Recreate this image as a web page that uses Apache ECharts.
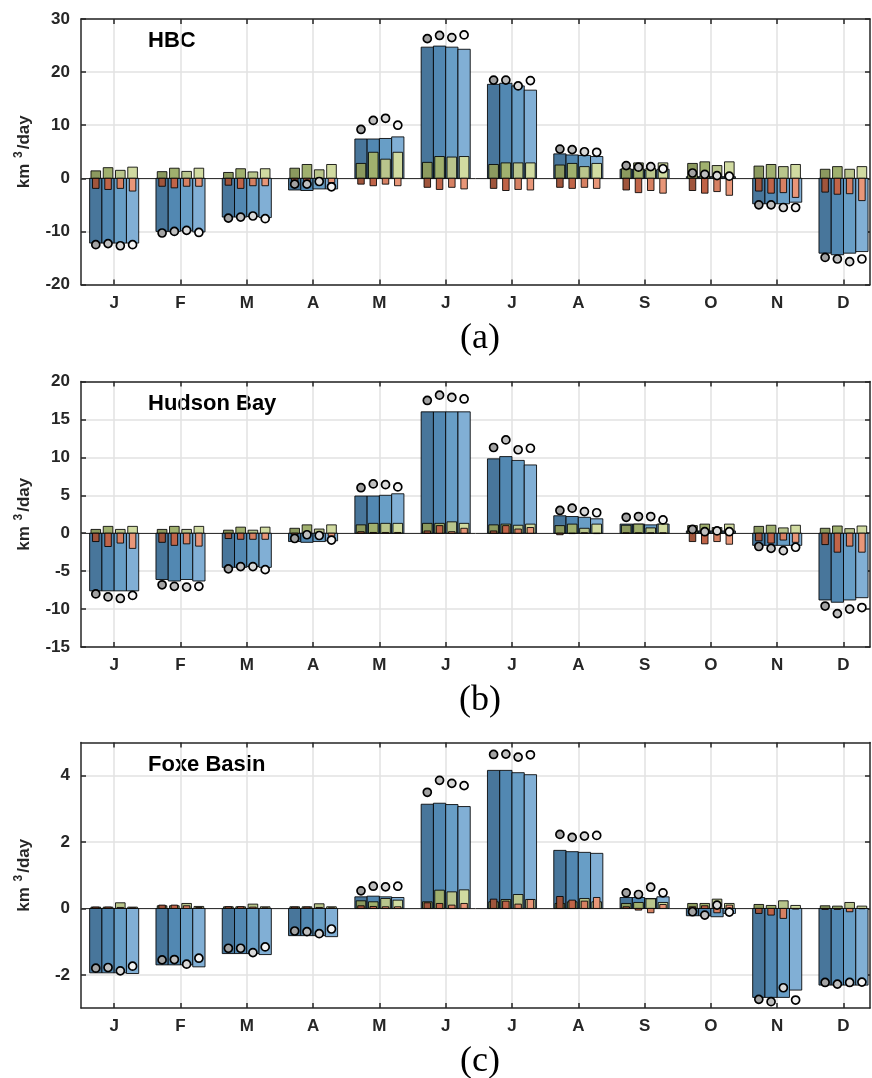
<!DOCTYPE html>
<html>
<head>
<meta charset="utf-8">
<script src="https://cdn.jsdelivr.net/npm/echarts@6/dist/echarts.min.js"></script>
<style>html,body{margin:0;padding:0;background:#fff}#c{width:872px;height:1078px}</style>
</head>
<body>
<div id="c"></div>
<script>
// ---------- DATA ----------
const months = ['J','F','M','A','M','J','J','A','S','O','N','D'];
const panelNames = ['HBC','Hudson Bay','Foxe Basin'];
const panelTags = ['(a)','(b)','(c)'];
const yTicks1 = [-20,-10,0,10,20,30];
const yTicks2 = [-15,-10,-5,0,5,10,15,20];
const yTicks3 = [-2,0,2,4];

// HBC: [month][member 1..4]
const hbcBlue = [[-12.2,-12.2,-12.2,-12.2],[-10.0,-10.0,-9.9,-10.1],[-7.3,-7.3,-7.2,-7.4],[-2.2,-2.3,-2.0,-2.0],[7.4,7.4,7.5,7.8],[24.7,24.9,24.7,24.3],[17.7,17.9,17.4,16.6],[4.6,4.4,4.3,4.1],[1.7,1.7,1.5,1.7],[0.3,0.3,0.3,0.3],[-4.8,-4.8,-4.8,-4.5],[-14.1,-14.4,-14.1,-13.8]];
const hbcGreen = [[1.4,2.0,1.5,2.1],[1.25,1.9,1.3,1.9],[1.1,1.8,1.2,1.8],[1.9,2.6,1.6,2.6],[2.8,4.9,3.6,4.9],[3.0,4.1,4.0,4.1],[2.6,2.9,2.9,2.9],[2.5,2.8,2.2,2.8],[1.8,2.9,1.9,2.9],[2.8,3.1,2.4,3.1],[2.3,2.6,2.2,2.6],[1.7,2.2,1.7,2.2]];
const hbcRed = [[-1.9,-2.1,-1.9,-2.4],[-1.5,-1.8,-1.5,-1.5],[-1.3,-1.9,-1.4,-1.4],[-0.6,-0.8,-0.3,-0.8],[-1.1,-1.4,-1.1,-1.4],[-1.7,-2.1,-1.7,-2.0],[-1.9,-2.3,-2.1,-2.2],[-1.7,-1.9,-1.7,-1.9],[-2.2,-2.7,-2.3,-2.8],[-2.3,-2.8,-2.5,-3.2],[-2.4,-2.8,-2.7,-3.6],[-2.6,-3.0,-2.9,-4.2]];
const hbcDots = [[-12.5,-12.3,-12.7,-12.5],[-10.3,-10.0,-9.8,-10.2],[-7.5,-7.3,-7.1,-7.6],[-1.1,-1.1,-0.6,-1.6],[9.2,10.9,11.3,10.0],[26.3,26.9,26.5,27.0],[18.5,18.5,17.4,18.4],[5.5,5.4,5.0,4.9],[2.4,2.1,2.2,1.8],[1.0,0.75,0.5,0.4],[-5.0,-5.0,-5.5,-5.5],[-14.9,-15.2,-15.7,-15.2]];

// Hudson Bay
const hbBlue = [[-7.6,-7.6,-7.6,-7.6],[-6.1,-6.3,-6.1,-6.3],[-4.5,-4.5,-4.4,-4.5],[-1.1,-1.2,-1.1,-1.0],[4.9,4.9,5.0,5.2],[16.0,16.0,16.0,16.0],[9.8,10.1,9.6,9.0],[2.3,2.2,2.1,1.9],[1.2,1.2,1.1,1.2],[0.3,0.3,0.3,0.3],[-1.6,-1.6,-1.6,-1.6],[-8.8,-9.1,-8.8,-8.5]];
const hbGreen = [[0.5,0.9,0.5,0.9],[0.5,0.9,0.5,0.9],[0.4,0.8,0.4,0.8],[0.65,1.1,0.55,1.1],[1.1,1.3,1.3,1.3],[1.3,1.3,1.5,1.3],[1.1,1.2,1.05,1.2],[1.0,1.2,0.65,1.2],[1.05,1.2,0.7,1.2],[1.0,1.2,0.75,1.2],[0.9,1.05,0.7,1.05],[0.65,0.95,0.6,0.95]];
const hbRed = [[-1.1,-1.75,-1.3,-2.0],[-1.2,-1.6,-1.4,-1.7],[-0.7,-0.8,-0.8,-0.8],[-0.2,-0.4,-0.3,-0.4],[0.2,0.1,0.1,0.1],[0.3,1.0,0.2,0.65],[0.3,1.0,0.55,0.75],[-0.2,-0.05,0.05,-0.05],[0.05,0.05,0.05,0.05],[-1.1,-1.4,-1.1,-1.45],[-1.0,-1.3,-0.9,-1.2],[-1.5,-2.5,-1.7,-2.5]];
const hbDots = [[-8.0,-8.4,-8.6,-8.2],[-6.8,-7.0,-7.1,-7.0],[-4.7,-4.4,-4.4,-4.8],[-0.7,-0.2,-0.3,-0.9],[6.0,6.5,6.4,6.1],[17.5,18.2,17.9,17.7],[11.3,12.3,11.0,11.2],[3.0,3.3,2.85,2.7],[2.1,2.2,2.2,1.75],[0.5,0.2,0.3,0.2],[-1.75,-2.0,-2.3,-1.85],[-9.6,-10.6,-10.0,-9.8]];

// Foxe Basin
const fbBlue = [[-1.94,-1.94,-1.94,-1.96],[-1.7,-1.7,-1.7,-1.76],[-1.36,-1.36,-1.36,-1.39],[-0.82,-0.82,-0.82,-0.85],[0.35,0.37,0.35,0.33],[3.14,3.17,3.13,3.07],[4.16,4.16,4.09,4.03],[1.75,1.71,1.69,1.66],[0.33,0.33,0.3,0.35],[-0.22,-0.22,-0.25,-0.15],[-2.68,-2.68,-2.68,-2.46],[-2.31,-2.31,-2.31,-2.31]];
const fbGreen = [[0.04,0.04,0.17,0.04],[0.08,0.08,0.15,0.06],[0.05,0.05,0.13,0.05],[0.05,0.05,0.14,0.05],[0.23,0.2,0.3,0.25],[0.2,0.55,0.5,0.56],[0.2,0.27,0.42,0.27],[0.15,0.2,0.3,0.2],[0.15,0.18,0.29,0.18],[0.15,0.15,0.28,0.15],[0.12,0.09,0.23,0.09],[0.08,0.07,0.18,0.07]];
const fbRed = [[0.04,0.04,0.03,0.02],[0.1,0.1,0.08,0.03],[0.05,0.05,0.04,0.02],[0.04,0.04,0.03,0.02],[0.08,0.06,0.05,0.05],[0.17,0.15,0.1,0.15],[0.28,0.22,0.13,0.27],[0.36,0.25,0.22,0.33],[0.05,-0.05,-0.13,0.12],[0.05,0.08,-0.13,0.1],[-0.15,-0.2,-0.3,-0.02],[-0.03,-0.03,-0.1,-0.01]];
const fbDots = [[-1.8,-1.78,-1.88,-1.74],[-1.55,-1.54,-1.68,-1.5],[-1.2,-1.2,-1.33,-1.16],[-0.68,-0.7,-0.76,-0.62],[0.53,0.67,0.65,0.67],[3.5,3.86,3.77,3.7],[4.64,4.65,4.56,4.63],[2.23,2.14,2.18,2.2],[0.47,0.42,0.64,0.47],[-0.1,-0.2,0.1,-0.11],[-2.74,-2.81,-2.39,-2.76],[-2.23,-2.28,-2.23,-2.22]];

// ---------- STYLE ----------
const blueCols = ['#48769b','#5288b2','#689ec6','#81afd5'];
const greenCols = ['#8c9a5f','#a0b06e','#b9c58c','#d1dba1'];
const redCols = ['#a0553c','#c06448','#d68062','#e89678'];
const dotCols = ['#a3a3a3','#bfbfbf','#dadada','#f5f5f5'];
const OFF = [-0.277,-0.092,0.093,0.278];
const W_BLUE = 0.185, W_GREEN = 0.145, W_RED = 0.098;
const FONT = 'Liberation Sans, Arial, sans-serif';
const AX = '#262626';

const panels = [
  {blue: hbcBlue, green: hbcGreen, red: hbcRed, dots: hbcDots, min: -20, max: 30, ticks: yTicks1, top: 19},
  {blue: hbBlue, green: hbGreen, red: hbRed, dots: hbDots, min: -15, max: 20, ticks: yTicks2, top: 381.5},
  {blue: fbBlue, green: fbGreen, red: fbRed, dots: fbDots, min: -3, max: 5, ticks: yTicks3, top: 742.5}
];
const GH = 265.5;

function flat(arr) {
  const out = [];
  arr.forEach((row, m) => row.forEach((v, k) => out.push([m + 1, k, v])));
  return out;
}
function barRender(w, cols) {
  return function (params, api) {
    const m = api.value(0), k = api.value(1), v = api.value(2);
    const xc = m + OFF[k];
    const p0 = api.coord([xc - w / 2, v]);
    const p1 = api.coord([xc + w / 2, 0]);
    return {
      type: 'rect',
      shape: {x: p0[0], y: Math.min(p0[1], p1[1]), width: p1[0] - p0[0], height: Math.abs(p1[1] - p0[1])},
      style: {fill: cols[k], stroke: 'rgba(0,0,0,0.85)', lineWidth: 1}
    };
  };
}

const grid = [], xAxis = [], yAxis = [], series = [], graphic = [];
const monthVals = [1,2,3,4,5,6,7,8,9,10,11,12];
panels.forEach((p, i) => {
  grid.push({left: 81, right: 2, top: p.top, height: GH});
  const xBase = {type: 'value', gridIndex: i, min: 0.5, max: 12.4,
    axisLine: {show: true, onZero: false, lineStyle: {color: AX, width: 1.5}},
    axisTick: {show: true, inside: true, length: 5, customValues: monthVals, lineStyle: {color: AX, width: 1.5}}};
  xAxis.push(Object.assign({}, xBase, {position: 'bottom',
    splitLine: {show: true, lineStyle: {color: '#e2e2e2', width: 1.5}},
    axisLabel: {show: true, customValues: monthVals, formatter: v => months[Math.round(v) - 1], color: AX, fontWeight: 'bold', fontSize: 17, fontFamily: FONT, margin: 10}}));
  xAxis.push(Object.assign({}, xBase, {position: 'top', splitLine: {show: false}, axisLabel: {show: false}}));
  const yBase = {type: 'value', gridIndex: i, min: p.min, max: p.max,
    axisLine: {show: true, onZero: false, lineStyle: {color: AX, width: 1.5}},
    axisTick: {show: true, inside: true, length: 5, customValues: p.ticks, lineStyle: {color: AX, width: 1.5}}};
  yAxis.push(Object.assign({}, yBase, {position: 'left',
    splitLine: {show: true, lineStyle: {color: '#e2e2e2', width: 1.5}},
    axisLabel: {show: true, customValues: p.ticks, color: AX, fontWeight: 'bold', fontSize: 17, fontFamily: FONT, margin: 11},
    name: '{n|km }{s|3}{n|/day}', nameLocation: 'middle', nameGap: 46, nameRotate: 90,
    nameTextStyle: {color: AX, fontFamily: FONT, fontWeight: 'bold', fontSize: 17,
      rich: {n: {fontSize: 17, fontWeight: 'bold', fontFamily: FONT, color: AX, lineHeight: 22},
             s: {fontSize: 12, fontWeight: 'bold', fontFamily: FONT, color: AX, verticalAlign: 'top', padding: [0, 2, 0, 1]}}}}));
  yAxis.push(Object.assign({}, yBase, {position: 'right', splitLine: {show: false}, axisLabel: {show: false}}));
  const xi = 2 * i, yi = 2 * i;
  series.push({type: 'custom', xAxisIndex: xi, yAxisIndex: yi, data: flat(p.blue), encode: {x: 0, y: 2},
    renderItem: barRender(W_BLUE, blueCols), z: 3, silent: true,
    markLine: {silent: true, symbol: ['none', 'none'], label: {show: false}, z: 2,
      lineStyle: {color: '#333', width: 1, type: 'solid'}, data: [{yAxis: 0}], animation: false}});
  series.push({type: 'custom', xAxisIndex: xi, yAxisIndex: yi, data: flat(p.green), encode: {x: 0, y: 2},
    renderItem: barRender(W_GREEN, greenCols), z: 4, silent: true});
  series.push({type: 'custom', xAxisIndex: xi, yAxisIndex: yi, data: flat(p.red), encode: {x: 0, y: 2},
    renderItem: barRender(W_RED, redCols), z: 5, silent: true});
  for (let k = 0; k < 4; k++) {
    series.push({type: 'scatter', xAxisIndex: xi, yAxisIndex: yi, z: 6, silent: true,
      symbol: 'circle', symbolSize: 8,
      itemStyle: {color: dotCols[k], borderColor: '#000', borderWidth: 1.7, opacity: 1},
      data: p.dots.map((row, m) => [m + 1 + OFF[k], row[k]])});
  }
  graphic.push({type: 'text', x: 148, y: p.top + 22, style: {text: panelNames[i], font: 'bold 22px ' + FONT, fill: '#000', textVerticalAlign: 'middle'}});
  graphic.push({type: 'text', x: 480, y: p.top + GH + 54, style: {text: panelTags[i], font: '36px "Liberation Serif", serif', fill: '#000', textAlign: 'center', textVerticalAlign: 'middle'}});
});

const chart = echarts.init(document.getElementById('c'), null, {renderer: 'canvas'});
chart.setOption({
  animation: false,
  backgroundColor: '#fff',
  grid, xAxis, yAxis, series, graphic
});
</script>
</body>
</html>
